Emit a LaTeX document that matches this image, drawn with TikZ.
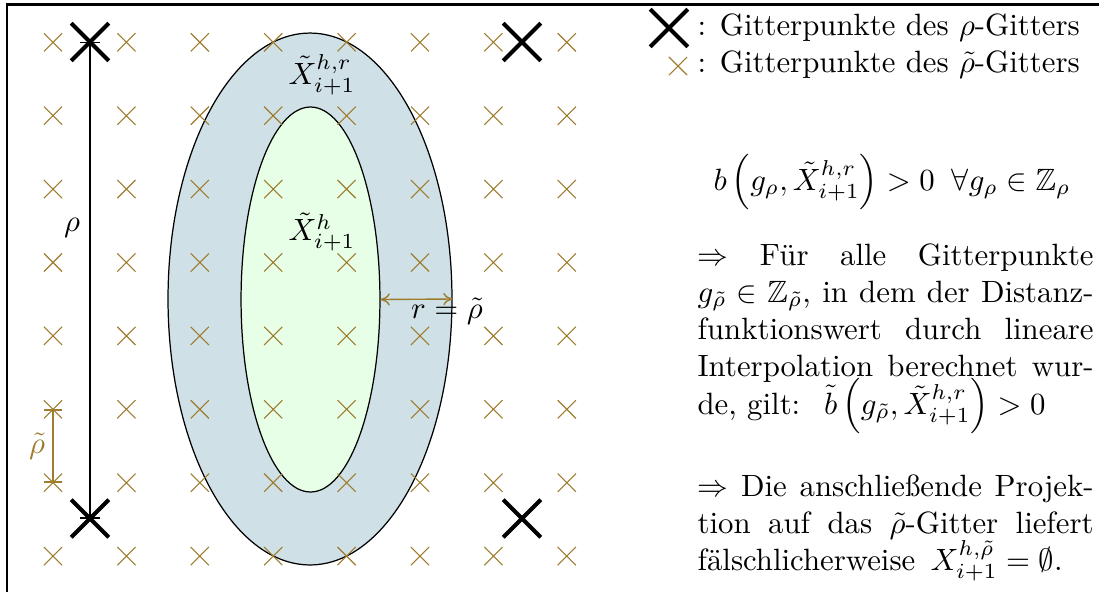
\documentclass[tikz,border=0pt]{standalone}
\usepackage{amsmath,amssymb}
\usetikzlibrary{arrows.meta,shapes.geometric,shapes.misc}
\definecolor{gridgold}{RGB}{158,124,46}
\definecolor{outerfill}{RGB}{207,224,230}
\definecolor{innerfill}{RGB}{230,255,230}
\tikzset{
  smallx/.style={cross out,draw=gridgold,line width=0.35pt,minimum size=5.9pt,inner sep=0pt,outer sep=0pt},
  bigx/.style={cross out,draw=black,line width=1.3pt,minimum size=12.2pt,inner sep=0pt,outer sep=0pt},
  region/.style={ellipse,draw=black,line width=0.4pt,inner sep=0pt},
  pline/.style={anchor=base west,inner sep=0pt},
}
\newcommand{\fullline}[1]{\makebox[128.6pt][s]{#1}}
\begin{document}
\begin{tikzpicture}[x=0.3247pt,y=-0.3247pt]
\useasboundingbox (0,0) rectangle (1099,592);
% frame
\draw[line width=0.85pt] (7,592) -- (7,4.7) -- (1099,4.7);
% regions
\node[region,fill=outerfill,minimum width=92.2pt,minimum height=172.7pt] (outer) at (310,299) {};
\node[region,fill=innerfill,minimum width=45.1pt,minimum height=125pt] (inner) at (310.5,299.5) {};
% fine grid
\foreach \i in {0,...,7}{
  \foreach \j in {0,...,7}{
    \node[smallx] (g-\i-\j) at ({53+73.4*\i},{42.3+73.4*\j}) {};
  }
}
% coarse grid
\node[bigx] (bTL) at (90,42) {};
\node[bigx] (bTR) at (522,42) {};
\node[bigx] (bBL) at (90,518.5) {};
\node[bigx] (bBR) at (522,518.5) {};
% rho spacing
\draw[line width=0.4pt,{Bar[width=6.5pt]}-{Bar[width=6.5pt]}] (bTL.center) -- (bBL.center);
\node (rholbl) at (72,228) {$\rho$};
% rho tilde spacing
\draw[gridgold,line width=0.45pt,{Bar[width=5.9pt]}-{Bar[width=5.9pt]}] (g-0-5.center) -- (g-0-6.center);
\node[text=gridgold] (rhotlbl) at (37,446) {$\tilde\rho$};
% r arrow
\draw[gridgold,line width=0.45pt,{To[length=3pt,width=4pt]}-{To[length=3pt,width=4pt]}] (inner.east) -- (outer.east);
\node (rlbl) at (447,311) {$r=\tilde\rho$};
% region labels
\node (outerlbl) at (322,75) {$\tilde X^{h,r}_{i+1}$};
\node (innerlbl) at (322,232) {$\tilde X^{h}_{i+1}$};
% legend
\node[bigx] (legbig) at (669,28) {};
\node[smallx] (legsmall) at (678,66) {};
\node[pline] (legt1) at (697,35) {: Gitterpunkte des $\rho$-Gitters};
\node[pline] (legt2) at (697,72) {: Gitterpunkte des $\tilde\rho$-Gitters};
% formula
\node[anchor=base,inner sep=0pt] (formula) at (892,190) {$b\left(g_\rho,\tilde X^{h,r}_{i+1}\right)>0\;\;\forall g_\rho\in\mathbb{Z}_\rho$};
% paragraph 1
\node[pline] (p1a) at (697,265) {\fullline{$\Rightarrow$ Für alle Gitterpunkte}};
\node[pline] (p1b) at (697,302) {\fullline{$g_{\tilde\rho}\in\mathbb{Z}_{\tilde\rho}$, in dem der Distanz-}};
\node[pline] (p1c) at (697,339.5) {\fullline{funktionswert durch lineare}};
\node[pline] (p1d) at (697,376.5) {\fullline{Interpolation berechnet wur-}};
\node[pline] (p1e) at (697,414) {de, gilt: \ $\tilde b\left(g_{\tilde\rho},\tilde X^{h,r}_{i+1}\right)>0$};
% paragraph 2
\node[pline] (p2a) at (697,496) {\fullline{$\Rightarrow$ Die anschließende Projek-}};
\node[pline] (p2b) at (697,533) {\fullline{tion auf das $\tilde\rho$-Gitter liefert}};
\node[pline] (p2c) at (697,570) {fälschlicherweise \,$X^{h,\tilde\rho}_{i+1}=\emptyset$.};
\end{tikzpicture}
\end{document}
